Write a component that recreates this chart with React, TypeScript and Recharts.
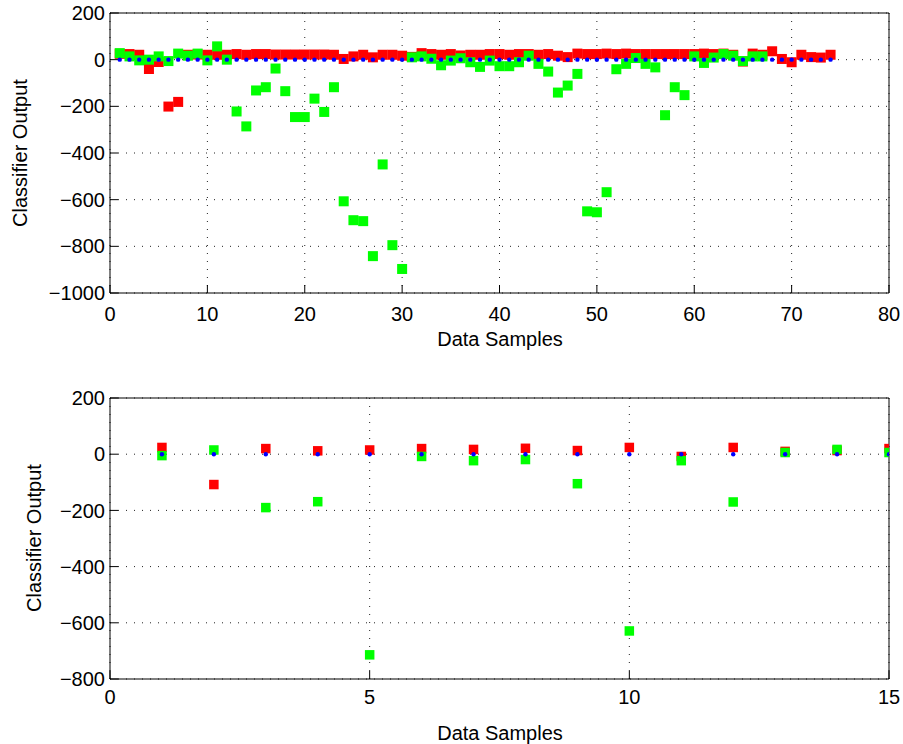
import React from 'react';
import { ScatterChart, Scatter, XAxis, YAxis, CartesianGrid } from 'recharts';

// ---- Top panel data (74 samples) ----
const topRed = [
  25, 24, 21, -40, -10, -201, -181, 21, 22, 21,
  21, 21, 24, 21, 24, 24, 22, 22, 22, 22,
  22, 22, 21, 3, 14, 21, 10, 21, 21, 17,
  12, 28, 24, 21, 24, 18, 21, 21, 24, 24,
  21, 24, 24, 21, 24, 17, 11, 26, 24, 24,
  26, 24, 26, 24, 24, 24, 24, 24, 24, 24,
  26, 24, 26, 21, -8, 26, 21, 36, 3, -11,
  21, 11, 9, 21,
];
const topGreen = [
  28, 14, -3, 0, 14, -6, 26, 17, 26, -3,
  57, 0, -222, -286, -132, -118, -38, -135, -246, -246,
  -167, -224, -118, -607, -688, -692, -842, -449, -795, -897,
  10, 14, 4, -24, -4, 6, -11, -31, -4, -28,
  -28, -11, 17, -18, -51, -141, -111, -61, -650, -654,
  -568, -41, -18, 7, -18, -33, -238, -118, -152, 14,
  -14, 9, 24, 17, -6, 14, 14,
];
const topBlue = [
  0, 0, 0, 0, 0, 0, 0, 0, 0, 0,
  0, 0, 0, 0, 0, 0, 0, 0, 0, 0,
  0, 0, 0, 0, 0, 0, 0, 0, 0, 0,
  0, 0, 0, 0, 0, 0, 0, 0, 0, 0,
  0, 0, 0, 0, 0, 0, 0, 0, 0, 0,
  0, 0, 0, 0, 0, 0, 0, 0, 0, 0,
  0, 0, 0, 0, 0, 0, 0, 0, 0, 0,
  0, 0, 0, 0,
];
const topXTicks = [0, 10, 20, 30, 40, 50, 60, 70, 80];
const topYTicks = [-1000, -800, -600, -400, -200, 0, 200];

// ---- Bottom panel data (15 samples) ----
const botRed = [24, -108, 20, 12, 15, 20, 17, 21, 13, 24, -8, 24, 10, 13, 20];
const botGreen = [-5, 15, -190, -169, -714, -8, -23, -19, -105, -629, -23, -170, 6, 17, 6];
const botBlue = [0, 0, 0, 0, 0, 0, 0, 0, 0, 0, 0, 0, 0, 0, 0];
const botXTicks = [0, 5, 10, 15];
const botYTicks = [-800, -600, -400, -200, 0, 200];

const xLabel = 'Data Samples';
const yLabel = 'Classifier Output';

const FONT = '"Liberation Sans", Arial, Helvetica, sans-serif';

const toPoints = (vals: number[]) => vals.map((v, i) => ({ x: i + 1, y: v }));

const fmt = (v: number) => String(v).replace('-', '\u2212');

const square = (color: string, size: number) => (p: any) => (
  <rect x={p.cx - size / 2} y={p.cy - size / 2} width={size} height={size} fill={color} />
);
const dot = (p: any) => <circle cx={p.cx} cy={p.cy} r={2.2} fill="#0000ff" />;

const tickStyle = { fontSize: 20, fill: '#000', fontFamily: FONT };

function Panel(props: {
  top: number;
  height: number;
  margin: { top: number; right: number; bottom: number; left: number };
  red: number[];
  green: number[];
  blue: number[];
  xTicks: number[];
  yTicks: number[];
  sq: number;
  xTickMargin: number;
}) {
  const { red, green, blue, xTicks, yTicks, sq } = props;
  const xDomain = [xTicks[0], xTicks[xTicks.length - 1]];
  const yDomain = [yTicks[0], yTicks[yTicks.length - 1]];
  return (
    <div style={{ position: 'absolute', left: 0, top: props.top }}>
      <ScatterChart width={903} height={props.height} margin={props.margin}>
        <CartesianGrid stroke="#222" strokeDasharray="1 7" strokeWidth={1} />
        <XAxis
          type="number"
          dataKey="x"
          domain={xDomain}
          ticks={xTicks}
          allowDataOverflow
          height={40}
          tickSize={-8}
          tickMargin={props.xTickMargin}
          tick={tickStyle}
          axisLine={{ stroke: '#000' }}
          tickLine={{ stroke: '#000' }}
          tickFormatter={fmt}
          interval={0}
        />
        <XAxis
          xAxisId="top"
          orientation="top"
          type="number"
          dataKey="x"
          domain={xDomain}
          ticks={xTicks}
          allowDataOverflow
          height={1}
          tickSize={-8}
          tick={false}
          axisLine={{ stroke: '#000' }}
          tickLine={{ stroke: '#000' }}
          interval={0}
        />
        <YAxis
          type="number"
          dataKey="y"
          domain={yDomain}
          ticks={yTicks}
          allowDataOverflow
          width={110}
          tickSize={-8}
          tickMargin={13}
          tick={tickStyle}
          axisLine={{ stroke: '#000' }}
          tickLine={{ stroke: '#000' }}
          tickFormatter={fmt}
          interval={0}
        />
        <YAxis
          yAxisId="right"
          orientation="right"
          type="number"
          dataKey="y"
          domain={yDomain}
          ticks={yTicks}
          allowDataOverflow
          width={1}
          tickSize={-8}
          tick={false}
          axisLine={{ stroke: '#000' }}
          tickLine={{ stroke: '#000' }}
          interval={0}
        />
        <Scatter data={toPoints(red)} shape={square('#ff0000', sq)} isAnimationActive={false} />
        <Scatter data={toPoints(green)} shape={square('#00ff00', sq)} isAnimationActive={false} />
        <Scatter data={toPoints(blue)} shape={dot} isAnimationActive={false} />
      </ScatterChart>
    </div>
  );
}

const labelBase: React.CSSProperties = {
  position: 'absolute',
  fontFamily: FONT,
  fontSize: 20,
  color: '#000',
  whiteSpace: 'nowrap',
  lineHeight: '20px',
};

export default function App() {
  return (
    <div style={{ position: 'absolute', left: 0, top: 0, width: 903, height: 744, background: '#fff', overflow: 'hidden' }}>
      <Panel
        top={0}
        height={370}
        margin={{ top: 12, right: 13, bottom: 37, left: 0 }}
        red={topRed}
        green={topGreen}
        blue={topBlue}
        xTicks={topXTicks}
        yTicks={topYTicks}
        sq={10}
        xTickMargin={22}
      />
      <Panel
        top={370}
        height={374}
        margin={{ top: 27, right: 13, bottom: 25, left: 0 }}
        red={botRed}
        green={botGreen}
        blue={botBlue}
        xTicks={botXTicks}
        yTicks={botYTicks}
        sq={9.5}
        xTickMargin={19}
      />
      <div style={{ ...labelBase, left: 20, top: 153, transform: 'translate(-50%, -50%) rotate(-90deg)' }}>{yLabel}</div>
      <div style={{ ...labelBase, left: 34, top: 538, transform: 'translate(-50%, -50%) rotate(-90deg)' }}>{yLabel}</div>
      <div style={{ ...labelBase, left: 500, top: 339, transform: 'translate(-50%, -50%)' }}>{xLabel}</div>
      <div style={{ ...labelBase, left: 500, top: 733, transform: 'translate(-50%, -50%)' }}>{xLabel}</div>
    </div>
  );
}
